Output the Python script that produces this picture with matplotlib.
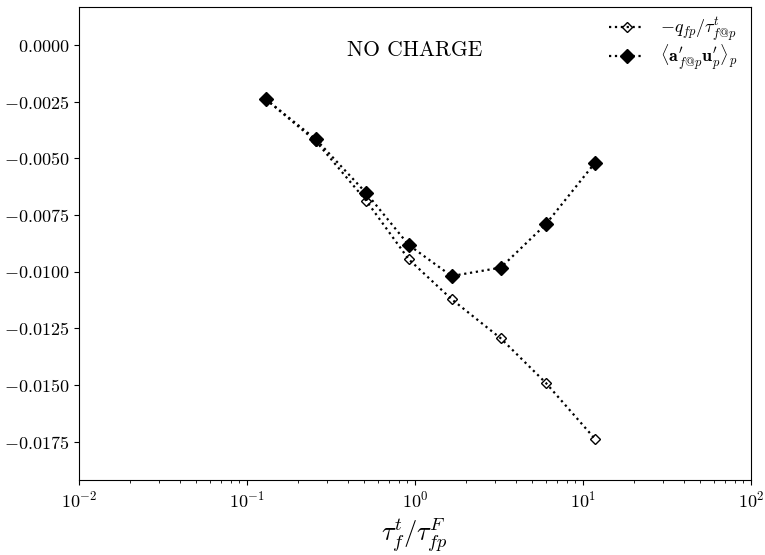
import matplotlib
matplotlib.use("Agg")
import matplotlib.pyplot as plt
from matplotlib.ticker import FuncFormatter

plt.rcParams["mathtext.fontset"] = "cm"
plt.rcParams["font.family"] = "serif"
plt.rcParams["font.serif"] = ["cmr10", "DejaVu Serif"]
plt.rcParams["axes.formatter.use_mathtext"] = True
plt.rcParams["axes.unicode_minus"] = True

# Stokes-number ratio on the x axis
tau_ratio = [0.129, 0.257, 0.514, 0.917, 1.65, 3.24, 6.0, 11.8]
# -q_fp / tau^t_{f@p}
q_over_tau = [-0.00238, -0.00424, -0.00688, -0.00945, -0.01121, -0.01294, -0.01490, -0.01738]
# <a'_{f@p} u'_p>_p
a_u_corr = [-0.00238, -0.00416, -0.00654, -0.00882, -0.01019, -0.00982, -0.00791, -0.00519]

yticks = [0.0, -0.0025, -0.0050, -0.0075, -0.0100, -0.0125, -0.0150, -0.0175]

fig = plt.figure(figsize=(7.65, 5.55), dpi=100)
ax = fig.add_axes([0.1033, 0.1351, 0.8784, 0.8523])

ax.plot(tau_ratio, q_over_tau, linestyle=":", linewidth=1.6, color="black",
        marker="D", markersize=5.5, markerfacecolor="none", markeredgecolor="black",
        markeredgewidth=1.0, label=r"$-q_{fp}/\tau^t_{f@p}$")
ax.plot(tau_ratio, a_u_corr, linestyle=":", linewidth=1.6, color="black",
        marker="D", markersize=7, markerfacecolor="black", markeredgecolor="black",
        label=r"$\langle \mathbf{a}^{\prime}_{f@p}\mathbf{u}^{\prime}_{p}\rangle_p$")

ax.set_xscale("log")
ax.set_xlim(1e-2, 1e2)
ax.set_ylim(-0.01919, 0.00168)
ax.set_yticks(yticks)
ax.yaxis.set_major_formatter(FuncFormatter(lambda v, p: f"${v:.4f}$" if abs(v) > 1e-12 else "$0.0000$"))
ax.tick_params(axis="both", labelsize=13)

ax.set_xlabel(r"$\tau^t_f/\tau^F_{fp}$", fontsize=19)

ax.text(0.5, 0.909, "NO CHARGE", transform=ax.transAxes, ha="center", va="center", fontsize=15.5)

ax.legend(loc="upper right", bbox_to_anchor=(0.988, 0.994), frameon=False, numpoints=1,
          fontsize=13, handlelength=1.9, handletextpad=0.9, labelspacing=0.0,
          borderaxespad=0.0, borderpad=0.3)

fig.savefig("out.png", dpi=100)
